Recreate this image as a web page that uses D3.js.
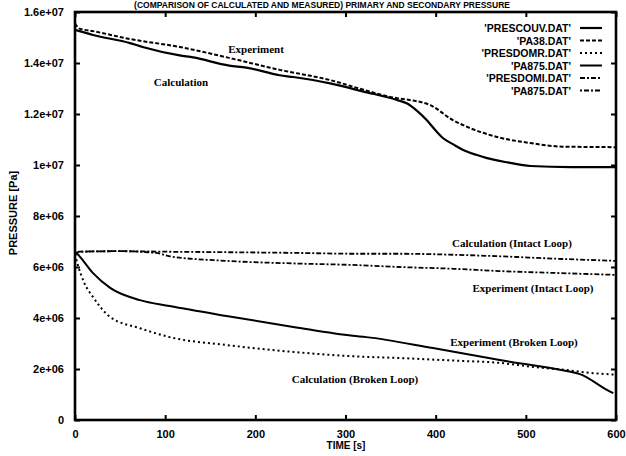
<!DOCTYPE html>
<html><head><meta charset="utf-8">
<script src="https://cdn.jsdelivr.net/npm/d3@7"></script>
<style>
body{margin:0;background:#fff;}
svg{display:block;}
.tk text{font-family:"Liberation Sans",Arial,sans-serif;font-weight:bold;font-size:11px;fill:#000;}
</style></head>
<body><svg id="c" width="626" height="456"></svg>
<script>
// ---- data ----
const xTicks = [0,100,200,300,400,500,600];
const yTicks = [0,2e6,4e6,6e6,8e6,1e7,1.2e7,1.4e7,1.6e7];
const yTickLabels = ["0","2e+06","4e+06","6e+06","8e+06","1e+07","1.2e+07","1.4e+07","1.6e+07"];

const presCouvT = [0,5,20,61,75,116,131,171,190,227,242,283,320,357,369,380,390,400,408,420,430,445,457,480,505,550,600];
const presCouvV = [15.3,15.25,15.1,14.78,14.63,14.3,14.22,13.9,13.82,13.52,13.45,13.2,12.88,12.55,12.4,12.1,11.76,11.35,11.06,10.8,10.6,10.4,10.27,10.1,9.96,9.92,9.92];

const pa38T = [0,5,20,61,116,171,227,283,320,357,371,394,419,438,468,505,541,600];
const pa38V = [15.55,15.35,15.25,14.94,14.63,14.2,13.73,13.33,12.95,12.62,12.55,12.35,11.76,11.45,11.1,10.86,10.72,10.7];

const presDomrT = [0,3,10,20,39,72,105,168,242,308,360,420,471,508,545,570,600];
const presDomrV = [6.5,6.1,5.4,4.82,4.04,3.6,3.25,2.94,2.67,2.5,2.43,2.33,2.24,2.08,1.96,1.85,1.78];

const pa875bT = [0,3,20,39,72,105,168,242,308,323,397,471,545,560,590,597];
const pa875bV = [6.6,6.5,5.76,5.18,4.7,4.47,4.08,3.65,3.3,3.25,2.82,2.35,1.92,1.8,1.18,1.05];

const presDomiT = [0,5,50,100,168,250,308,360,420,471,530,600];
const presDomiV = [6.5,6.6,6.62,6.6,6.58,6.55,6.52,6.52,6.48,6.42,6.33,6.24];

const pa875iT = [0,5,50,90,105,168,242,308,360,420,471,530,600];
const pa875iV = [6.5,6.6,6.62,6.55,6.42,6.24,6.14,6.08,6.0,5.93,5.84,5.77,5.69];

const legendNames = ["'PRESCOUV.DAT'","'PA38.DAT'","'PRESDOMR.DAT'","'PA875.DAT'","'PRESDOMI.DAT'","'PA875.DAT'"];
const seriesT = [presCouvT,pa38T,presDomrT,pa875bT,presDomiT,pa875iT];
const seriesV = [presCouvV,pa38V,presDomrV,pa875bV,presDomiV,pa875iV];
const dashes = [null,"4,2","2,3",null,"5,2,2,2","2,2,5,2"];
const widths = [2.2,2,2,2,1.8,1.8];

const annotations = [
  {t:"Experiment", x:256, y:49},
  {t:"Calculation", x:181, y:82},
  {t:"Calculation (Intact Loop)", x:512, y:243},
  {t:"Experiment (Intact Loop)", x:533, y:288},
  {t:"Experiment (Broken Loop)", x:514, y:342},
  {t:"Calculation (Broken Loop)", x:355, y:379}
];
const titleText = "(COMPARISON OF CALCULATED AND MEASURED) PRIMARY AND SECONDARY PRESSURE";

// ---- chart ----
const svg = d3.select("#c");
const L=75,R=616,T=12,B=420;
const x = d3.scaleLinear().domain([0,600]).range([L,R]);
const y = d3.scaleLinear().domain([0,1.6e7]).range([B,T]);

// title
svg.append("text").attr("x",322).attr("y",8).attr("text-anchor","middle")
  .style("font-family","Liberation Sans,Arial,sans-serif").style("font-weight","bold").style("font-size","8.5px")
  .text(titleText);

// axes with inward ticks on all sides
const fmt = d => yTickLabels[yTicks.indexOf(d)];
svg.append("g").attr("class","tk").attr("transform",`translate(${L},0)`)
  .call(d3.axisLeft(y).tickValues(yTicks).tickFormat(fmt).tickSizeInner(-5).tickSizeOuter(0).tickPadding(11))
  .call(g=>g.select(".domain").remove());
svg.append("g").attr("class","tk").attr("transform",`translate(${R},0)`)
  .call(d3.axisRight(y).tickValues(yTicks).tickFormat("").tickSizeInner(-5).tickSizeOuter(0))
  .call(g=>g.select(".domain").remove());
svg.append("g").attr("class","tk").attr("transform",`translate(0,${B})`)
  .call(d3.axisBottom(x).tickValues(xTicks).tickFormat(d3.format("d")).tickSizeInner(-5).tickSizeOuter(0).tickPadding(10))
  .call(g=>g.select(".domain").remove());
svg.append("g").attr("class","tk").attr("transform",`translate(0,${T})`)
  .call(d3.axisTop(x).tickValues(xTicks).tickFormat("").tickSizeInner(-5).tickSizeOuter(0))
  .call(g=>g.select(".domain").remove());
svg.selectAll(".tk line").attr("stroke","#000").attr("stroke-width",2);

svg.append("rect").attr("x",L).attr("y",T).attr("width",R-L).attr("height",B-T)
  .attr("fill","none").attr("stroke","#000").attr("stroke-width",2.6);

// axis titles
svg.append("text").attr("x",346).attr("y",449).attr("text-anchor","middle")
  .style("font-family","Liberation Sans,Arial,sans-serif").style("font-weight","bold").style("font-size","10px")
  .text("TIME [s]");
svg.append("text").attr("transform","translate(17,213) rotate(-90)").attr("text-anchor","middle")
  .style("font-family","Liberation Sans,Arial,sans-serif").style("font-weight","bold").style("font-size","11px")
  .text("PRESSURE [Pa]");

// series
const line = d3.line().x(d=>x(d[0])).y(d=>y(d[1]*1e6)).curve(d3.curveMonotoneX);
seriesT.forEach((ts,i)=>{
  const pts = ts.map((t,j)=>[t,seriesV[i][j]]);
  svg.append("path").attr("d",line(pts)).attr("fill","none").attr("stroke","#000")
    .attr("stroke-width",widths[i]).attr("stroke-dasharray",dashes[i]);
});

// legend
legendNames.forEach((n,i)=>{
  const yy = 28 + i*12.5;
  svg.append("text").attr("x",571).attr("y",yy+4).attr("text-anchor","end")
    .style("font-family","Liberation Sans,Arial,sans-serif").style("font-weight","bold").style("font-size","10.5px")
    .text(n);
  svg.append("line").attr("x1",580).attr("x2",602).attr("y1",yy).attr("y2",yy)
    .attr("stroke","#000").attr("stroke-width",widths[i]).attr("stroke-dasharray",dashes[i]);
});

// annotations
annotations.forEach(a=>{
  svg.append("text").attr("x",a.x).attr("y",a.y+4).attr("text-anchor","middle")
    .style("font-family","Liberation Serif,Times New Roman,serif").style("font-weight","bold").style("font-size","11px")
    .text(a.t);
});
</script></body></html>
